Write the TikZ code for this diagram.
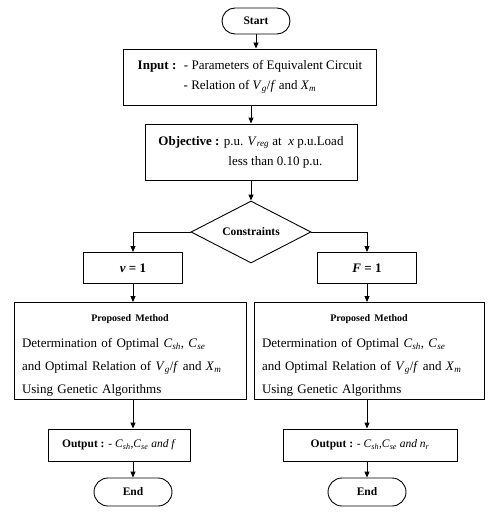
\documentclass[tikz,border=0pt]{standalone}
\usepackage{fontspec}
\setmainfont{Liberation Serif}
\usetikzlibrary{shapes.geometric,arrows.meta}
% italic symbol with italic subscript
\newcommand{\ivar}[2]{\textit{#1}\textsubscript{\textit{#2}}}
% bold heading line of a method box
\newcommand{\methodhead}{\rule{0pt}{16pt}\hfill{\fontsize{10}{12}\selectfont\bfseries Proposed Method}\hfill\null}
\begin{document}
\begin{tikzpicture}[x=1pt,y=-1pt,
  every node/.style={inner sep=0pt},
  box/.style={draw,line width=0.9pt,font=\fontsize{13}{15}\selectfont},
  term/.style={draw,line width=0.9pt,rounded corners=13pt,font=\fontsize{11.5}{13}\selectfont\bfseries},
  method/.style={box,text width=216pt,inner xsep=8pt,align=left,minimum height=97pt,
    font=\fontsize{13}{23}\selectfont},
  result/.style={box,minimum height=32pt,font=\fontsize{11.5}{13}\selectfont},
  arr/.style={line width=0.9pt,-{Triangle[length=6pt,width=5pt]}}]
\useasboundingbox (0,0) rectangle (487,516);
\fill[white] (0,0) rectangle (487,516);

% main column
\node[term,minimum width=68pt,minimum height=26pt] (start) at (256,21) {Start};
\node[box,minimum width=253pt,minimum height=56pt,align=center] (input) at (250,77)
  {\textbf{Input :} \ - Parameters of Equivalent Circuit\\[5pt]
   - Relation of \ivar{V}{g}/\textit{f} and \ivar{X}{m}};
\node[box,minimum width=212pt,minimum height=56pt,align=left] (obj) at (251,152)
  {\textbf{Objective :} p.u. \ivar{V}{reg} at \ \textit{x} p.u.Load\\[5pt]
   \hspace*{70pt}less than 0.10 p.u.};
\node[draw,line width=0.9pt,diamond,aspect=2,minimum width=120pt,minimum height=62pt,
  font=\fontsize{11.5}{13}\selectfont\bfseries] (cons) at (251,232) {Constraints};

% two branches
\node[box,minimum width=99pt,minimum height=31pt] (v1) at (133,268) {\textbf{\textit{v} = 1}};
\node[box,minimum width=99pt,minimum height=31pt] (f1) at (367,268) {\textbf{\textit{F} = 1}};

\node[method] (pmL) at (130,351)
  {\methodhead\\[3pt]
   Determination of Optimal \ivar{C}{sh}, \ivar{C}{se}\\
   and Optimal Relation of \ivar{V}{g}/\textit{f} and \ivar{X}{m}\\
   Using Genetic Algorithms};
\node[method,text width=214pt] (pmR) at (369,351)
  {\methodhead\\[3pt]
   Determination of Optimal \ivar{C}{sh}, \ivar{C}{se}\\
   and Optimal Relation of \ivar{V}{g}/\textit{f} and \ivar{X}{m}\\
   Using Genetic Algorithms};

\node[result,minimum width=142pt] (outL) at (119,445)
  {\textbf{Output :} - \ivar{C}{sh},\ivar{C}{se} \textit{and f}};
\node[result,minimum width=174pt] (outR) at (370,445)
  {\textbf{Output :} - \ivar{C}{sh},\ivar{C}{se} \textit{and n}\textsubscript{\textit{r}}};

\node[term,minimum width=78pt,minimum height=28pt,rounded corners=14pt] (endL) at (133,492) {End};
\node[term,minimum width=78pt,minimum height=28pt,rounded corners=14pt] (endR) at (367,492) {End};

% connectors
\draw[arr] (start) -- (start |- input.north);
\draw[arr] (input.south -| obj) -- (obj);
\draw[arr] (obj) -- (cons);
\draw[arr] (cons.west) -| (v1.north);
\draw[arr] (cons.east) -| (f1.north);
\draw[arr] (v1) -- (v1 |- pmL.north);
\draw[arr] (f1) -- (f1 |- pmR.north);
\draw[arr] (pmL.south -| endL) -- (endL |- outL.north);
\draw[arr] (pmR.south -| endR) -- (endR |- outR.north);
\draw[arr] (outL.south -| endL) -- (endL);
\draw[arr] (outR.south -| endR) -- (endR);
\end{tikzpicture}
\end{document}
